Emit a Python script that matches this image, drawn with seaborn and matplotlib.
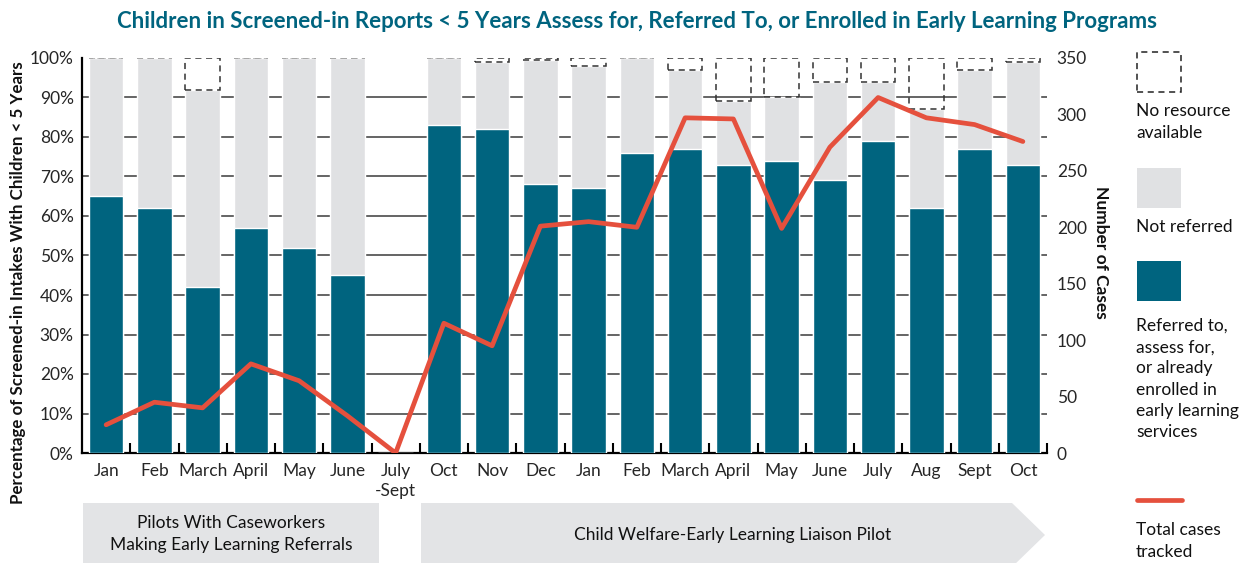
import matplotlib
matplotlib.use("Agg")
import matplotlib.pyplot as plt
import matplotlib.patches as mpatches
from matplotlib.lines import Line2D
import numpy as np
import pandas as pd
import seaborn as sns

# ---------------- data ----------------
months = ["Jan", "Feb", "March", "April", "May", "June", "July\n-Sept",
          "Oct", "Nov", "Dec", "Jan", "Feb", "March", "April", "May",
          "June", "July", "Aug", "Sept", "Oct"]
referred = [65, 62, 42, 57, 52, 45, 0,
            83, 82, 68, 67, 76, 77, 73, 74, 69, 79, 62, 77, 73]
not_referred = [35, 38, 50, 43, 48, 55, 0,
                17, 17, 31.5, 31, 24, 20, 16, 16, 25, 15, 25, 20, 26]
no_resource = [0, 0, 8, 0, 0, 0, 0,
               0, 1, 0.5, 2, 0, 3, 11, 10, 6, 6, 13, 3, 1]
total_cases = [25, 45, 40, 79, 64, 33, 0,
               115, 95, 201, 205, 200, 297, 296, 199, 271, 315, 297, 291, 276]

TEAL = "#00647F"
GRAY = "#E0E1E3"
RED = "#E5503D"
FONT = ["Lato", "DejaVu Sans"]

sns.set_theme(style="white")
plt.rcParams["font.family"] = FONT

W, H = 1244, 563
fig = plt.figure(figsize=(W / 100, H / 100), dpi=100)

def fx(px):
    return px / W

def fy(py):
    return 1 - py / H

ax = fig.add_axes([fx(82), fy(453), fx(1047) - fx(82), fy(58) - fy(453)])

pos = np.arange(len(months))
total = [r + n for r, n in zip(referred, not_referred)]
df = pd.DataFrame({"pos": pos, "total": total, "referred": referred,
                   "no_resource": no_resource, "cases": total_cases})

BW = 0.72
sns.barplot(data=df, x="pos", y="total", color=GRAY, width=BW,
            saturation=1, ax=ax, zorder=2)
sns.barplot(data=df, x="pos", y="referred", color=TEAL, width=BW,
            saturation=1, ax=ax, zorder=3)

# dashed "no resource available" boxes
for p, t, nr in zip(pos, total, no_resource):
    if t == 0:
        continue
    ec = "#333333" if nr > 0 else "#A8A8A8"
    ax.bar(p, nr, bottom=t, width=BW, fill=False, edgecolor=ec,
           linestyle=(0, (4, 3)), linewidth=1.1, zorder=4)

ax.set_xlim(-0.5, len(months) - 0.5)
ax.set_ylim(0, 100)
ax.set_yticks(np.arange(0, 101, 10))
ax.set_yticklabels([f"{v}%" for v in range(0, 101, 10)], fontsize=12.5)
ax.set_xticks(pos)
ax.set_xticklabels(months, fontsize=12.5, linespacing=1.3)
ax.set_xticks(np.arange(0.5, len(months), 1), minor=True)
ax.tick_params(axis="x", which="major", length=0, pad=7)
ax.tick_params(axis="x", which="minor", direction="in", length=7,
               width=1.5, color="black", bottom=True)
ax.tick_params(axis="y", length=0, pad=6)
ax.set_xlabel("")
ax.set_ylabel("")
ax.set_axisbelow(True)
ax.yaxis.grid(True, color="#3A3A3A", linewidth=1.1)
ax.xaxis.grid(False)
for s in ["top", "right"]:
    ax.spines[s].set_visible(False)
for s in ["left", "bottom"]:
    ax.spines[s].set_color("black")
    ax.spines[s].set_linewidth(1.6)
for gl, v in zip(ax.get_ygridlines(), range(0, 101, 10)):
    if v in (0, 100):
        gl.set_visible(False)

# line on twin axis
ax2 = ax.twinx()
sns.lineplot(data=df, x="pos", y="cases", color=RED, linewidth=3.4,
             ax=ax2, zorder=5)
ax2.set_xlim(-0.5, len(months) - 0.5)
ax2.set_ylim(0, 350)
ax2.set_yticks(np.arange(0, 351, 50))
ax2.set_yticklabels([str(v) for v in range(0, 351, 50)], fontsize=12.5)
ax2.tick_params(axis="y", length=0, pad=7)
ax2.set_ylabel("")
ax2.set_xlabel("")
ax2.grid(False)
for s in ax2.spines.values():
    s.set_visible(False)

# titles / axis labels
fig.text(fx(637), fy(21), "Children in Screened-in Reports < 5 Years Assess for, "
         "Referred To, or Enrolled in Early Learning Programs",
         ha="center", va="center", fontsize=16, fontweight="bold",
         color=TEAL)
fig.text(fx(18), fy(283), "Percentage of Screened-in Intakes With Children < 5 Years",
         rotation=90, ha="center", va="center", fontsize=12.2,
         fontweight="bold", color="#111111")
fig.text(fx(1101), fy(252), "Number of Cases", rotation=-90, ha="center",
         va="center", fontsize=12.5, fontweight="bold", color="#111111")

# bottom banners
BANNER = "#E3E4E6"
fig.add_artist(mpatches.Polygon(
    [(fx(83), fy(503)), (fx(379), fy(503)), (fx(379), fy(563)), (fx(83), fy(563))],
    closed=True, facecolor=BANNER, edgecolor="none", transform=fig.transFigure))
fig.add_artist(mpatches.Polygon(
    [(fx(421), fy(503)), (fx(1012), fy(503)), (fx(1045), fy(535)),
     (fx(1012), fy(567)), (fx(421), fy(567))],
    closed=True, facecolor=BANNER, edgecolor="none", transform=fig.transFigure))
fig.text(fx(231), fy(534), "Pilots With Caseworkers\nMaking Early Learning Referrals",
         ha="center", va="center", fontsize=12.5, linespacing=1.4, color="#111111")
fig.text(fx(733), fy(535), "Child Welfare-Early Learning Liaison Pilot",
         ha="center", va="center", fontsize=12.5, color="#111111")

# legend (manual)
LFS = 12.5
fig.add_artist(mpatches.Rectangle((fx(1137), fy(92)), fx(44), fy(52) - fy(92),
               fill=False, edgecolor="#222222", linestyle=(0, (4, 3)),
               linewidth=1.1, transform=fig.transFigure))
fig.text(fx(1136), fy(122), "No resource\navailable", ha="left", va="center",
         fontsize=LFS, linespacing=1.4, color="#111111")
fig.add_artist(mpatches.Rectangle((fx(1137), fy(208)), fx(44), fy(168) - fy(208),
               facecolor=GRAY, edgecolor="none", transform=fig.transFigure))
fig.text(fx(1136), fy(227), "Not referred", ha="left", va="center",
         fontsize=LFS, color="#111111")
fig.add_artist(mpatches.Rectangle((fx(1137), fy(301)), fx(44), fy(261) - fy(301),
               facecolor=TEAL, edgecolor="none", transform=fig.transFigure))
fig.text(fx(1136), fy(379), "Referred to,\nassess for,\nor already\nenrolled in\n"
         "early learning\nservices", ha="left", va="center", fontsize=LFS,
         linespacing=1.4, color="#111111")
fig.add_artist(Line2D([fx(1137), fx(1182)], [fy(500), fy(500)], color=RED,
               linewidth=3.4, transform=fig.transFigure))
fig.text(fx(1136), fy(541), "Total cases\ntracked", ha="left", va="center",
         fontsize=LFS, linespacing=1.4, color="#111111")

fig.savefig("out.png", dpi=100)
